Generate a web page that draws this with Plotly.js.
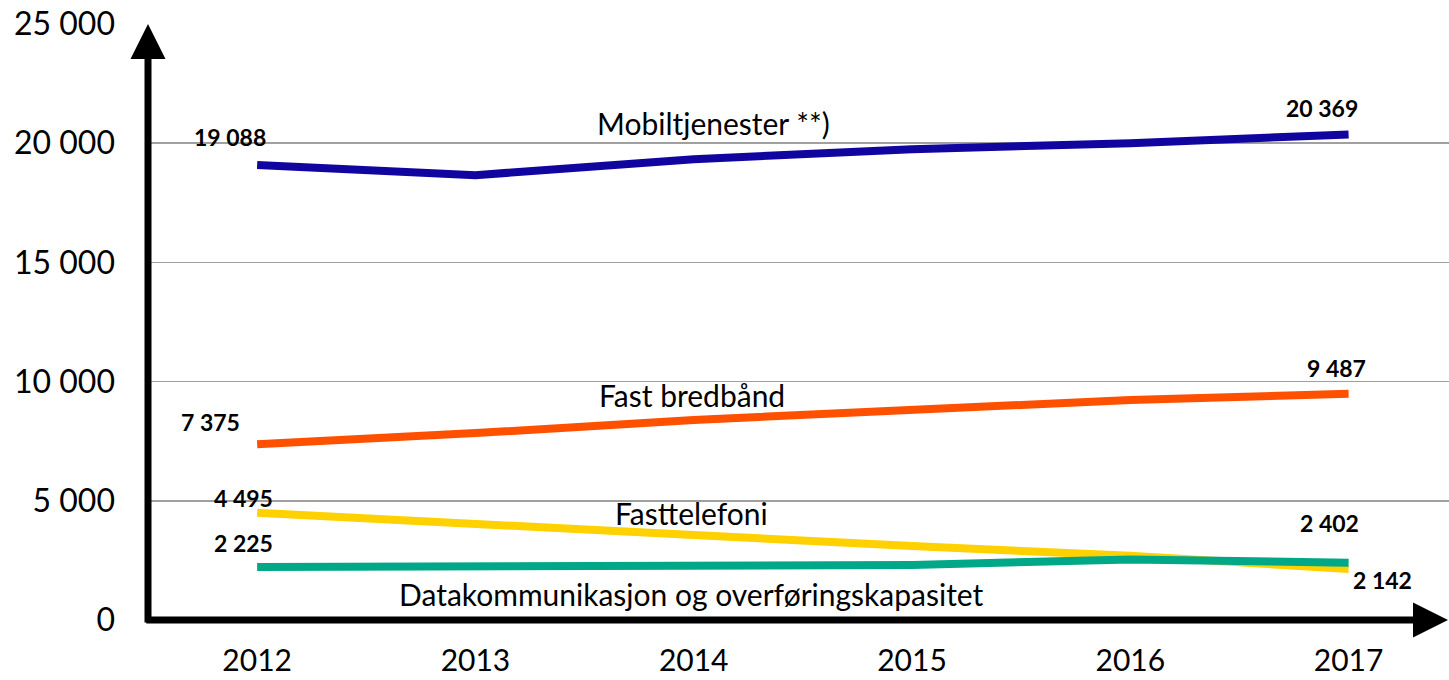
<!DOCTYPE html>
<html>
<head>
<meta charset="utf-8">
<script src="https://cdn.plot.ly/plotly-3.0.1.min.js"></script>
<style>
  html, body { margin: 0; padding: 0; background: #fff; }
  #plot { width: 1449px; height: 680px; }
</style>
</head>
<body>
<div id="plot"></div>
<script>
// Years on the x axis
var years = [2012, 2013, 2014, 2015, 2016, 2017];

// Series values
var mobil = [19088, 18660, 19330, 19750, 20000, 20369];
var bredband = [7375, 7840, 8390, 8850, 9230, 9487];
var fasttelefoni = [4495, 4070, 3565, 3105, 2690, 2142];
var datakom = [2225, 2265, 2270, 2310, 2540, 2402];

// Series names, shown as text labels inside the plot
var names = ["Mobiltjenester **)", "Fast bredbånd", "Fasttelefoni", "Datakommunikasjon og overføringskapasitet"];
var colors = ["#10069F", "#FF5000", "#FFD100", "#00A887"];
var yTicks = [0, 5000, 10000, 15000, 20000, 25000];

var font = "Lato, 'Open Sans', sans-serif";

function fmt(v) {
  return String(v).replace(/\B(?=(\d{3})+(?!\d))/g, " ");
}

var series = [mobil, bredband, fasttelefoni, datakom];

var data = series.map(function(vals, i) {
  return {
    x: years,
    y: vals,
    name: names[i],
    type: "scatter",
    mode: "lines",
    line: { color: colors[i], width: 8 },
    hoverinfo: "x+y"
  };
});

// Value labels at first and last point: [series, index, xshift, yshift]
var valueLabels = [
  [0, 0, -27, 28], [0, 5, -27, 26],
  [1, 0, -47, 22], [1, 5, -12, 26],
  [2, 0, -14, 15], [2, 5, 34, -11],
  [3, 0, -14, 24], [3, 5, -19, 40]
];

var annotations = valueLabels.map(function(l) {
  var v = series[l[0]][l[1]];
  return {
    x: years[l[1]], y: v, xref: "x", yref: "y",
    text: "<b>" + fmt(v) + "</b>",
    showarrow: false,
    xshift: l[2], yshift: l[3],
    font: { family: font, size: 23, color: "#000" }
  };
});

// Series name labels
var nameLabels = [
  [2014.09, 20850],
  [2013.99, 9440],
  [2013.99, 4490],
  [2013.99, 1090]
];
nameLabels.forEach(function(p, i) {
  annotations.push({
    x: p[0], y: p[1], xref: "x", yref: "y",
    text: names[i], showarrow: false,
    font: { family: font, size: 30, color: "#000" }
  });
});

// Axis arrows
annotations.push({
  x: 0, y: 1, xref: "paper", yref: "paper",
  ax: 0, ay: 600, axref: "pixel", ayref: "pixel",
  text: "", showarrow: true, arrowhead: 2, arrowsize: 1,
  arrowwidth: 7, arrowcolor: "#000", standoff: 0
});
annotations.push({
  x: 1.006, y: 0, xref: "paper", yref: "paper",
  ax: -1312, ay: 0, axref: "pixel", ayref: "pixel",
  text: "", showarrow: true, arrowhead: 2, arrowsize: 1,
  arrowwidth: 7, arrowcolor: "#000", standoff: 0
});

var layout = {
  width: 1449,
  height: 680,
  margin: { l: 148, r: 0, t: 24, b: 60 },
  paper_bgcolor: "#fff",
  plot_bgcolor: "#fff",
  showlegend: false,
  separators: ", ",
  font: { family: font, color: "#000" },
  xaxis: {
    range: [2011.5, 2017.46],
    tickvals: years,
    ticktext: years.map(String),
    showgrid: false,
    zeroline: false,
    showline: false,
    ticks: "",
    ticklabelstandoff: 20,
    tickfont: { family: font, size: 30, color: "#000" }
  },
  yaxis: {
    range: [0, 25000],
    tickvals: yTicks,
    ticktext: yTicks.map(fmt),
    showgrid: true,
    gridcolor: "#A0A0A0",
    gridwidth: 1.5,
    zeroline: false,
    showline: false,
    ticks: "",
    ticklabelstandoff: 32,
    tickfont: { family: font, size: 32, color: "#000" }
  },
  annotations: annotations
};

Plotly.newPlot("plot", data, layout, { displayModeBar: false, staticPlot: true });
</script>
</body>
</html>
